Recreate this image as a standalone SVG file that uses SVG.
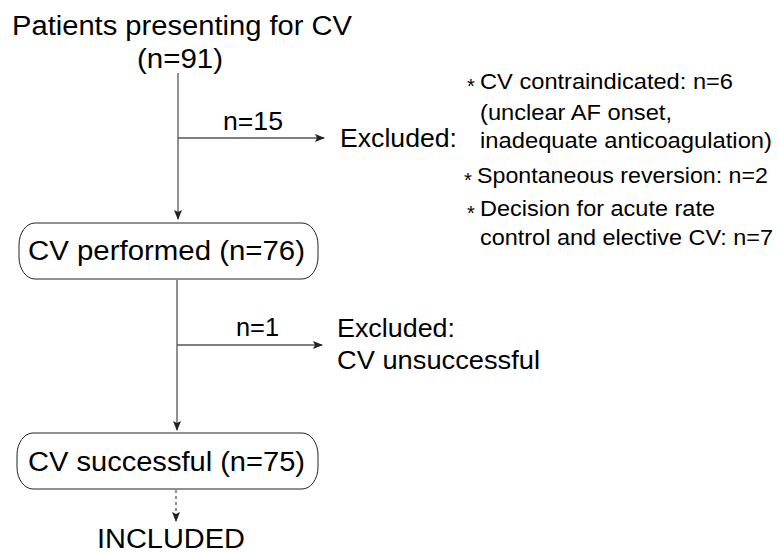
<svg xmlns="http://www.w3.org/2000/svg" width="778" height="553" viewBox="0 0 778 553">
<style>
text{font-family:"Liberation Sans",Arial,sans-serif;fill:#000}
.big{font-size:27px}
.mid{font-size:25px}
.sm{font-size:21.5px}
.ast{font-size:20px}
.ln{stroke:#555;stroke-width:1.3;fill:none}
.box{fill:#fff;stroke:#222;stroke-width:1}
</style>
<defs>
<marker id="ah" markerWidth="10" markerHeight="8" refX="9" refY="4" orient="auto" markerUnits="userSpaceOnUse">
<path d="M0,0 L10,4 L0,8 L2,4 Z" fill="#222"/>
</marker>
</defs>
<rect width="778" height="553" fill="#fff"/>
<g id="connectors">
<line class="ln" x1="178" y1="73" x2="178" y2="219" marker-end="url(#ah)"/>
<line class="ln" x1="178" y1="138" x2="324" y2="138" marker-end="url(#ah)"/>
<line class="ln" x1="177" y1="280" x2="177" y2="430" marker-end="url(#ah)"/>
<line class="ln" x1="177" y1="345" x2="322" y2="345" marker-end="url(#ah)"/>
<line class="ln" x1="176" y1="490" x2="176" y2="521" stroke-dasharray="3,3" marker-end="url(#ah)"/>
<text class="mid" x="223" y="130" textLength="60" lengthAdjust="spacingAndGlyphs">n=15</text>
<text class="mid" x="236" y="336" textLength="43" lengthAdjust="spacingAndGlyphs">n=1</text>
</g>
<g id="start">
<text class="big" x="12" y="35" textLength="340" lengthAdjust="spacingAndGlyphs">Patients presenting for CV</text>
<text class="big" x="137" y="68" textLength="86" lengthAdjust="spacingAndGlyphs">(n=91)</text>
</g>
<g id="excluded1">
<text class="mid" x="340" y="147" textLength="117" lengthAdjust="spacingAndGlyphs">Excluded:</text>
<text class="ast" x="467" y="93">*</text>
<text class="sm" x="480" y="89" textLength="253" lengthAdjust="spacingAndGlyphs">CV contraindicated: n=6</text>
<text class="sm" x="480" y="120" textLength="192" lengthAdjust="spacingAndGlyphs">(unclear AF onset,</text>
<text class="sm" x="480" y="148" textLength="292" lengthAdjust="spacingAndGlyphs">inadequate anticoagulation)</text>
<text class="ast" x="464" y="187">*</text>
<text class="sm" x="477" y="183" textLength="291" lengthAdjust="spacingAndGlyphs">Spontaneous reversion: n=2</text>
<text class="ast" x="467" y="220">*</text>
<text class="sm" x="480" y="216" textLength="235" lengthAdjust="spacingAndGlyphs">Decision for acute rate</text>
<text class="sm" x="480" y="245" textLength="293" lengthAdjust="spacingAndGlyphs">control and elective CV: n=7</text>
</g>
<g id="performed">
<rect class="box" x="19" y="223" width="299" height="56" rx="16" ry="22"/>
<text class="big" x="28" y="260" textLength="277" lengthAdjust="spacingAndGlyphs">CV performed (n=76)</text>
</g>
<g id="excluded2">
<text class="mid" x="337" y="337" textLength="118" lengthAdjust="spacingAndGlyphs">Excluded:</text>
<text class="mid" x="337" y="369" textLength="203" lengthAdjust="spacingAndGlyphs">CV unsuccessful</text>
</g>
<g id="successful">
<rect class="box" x="17" y="433" width="301" height="56" rx="16" ry="22"/>
<text class="big" x="28" y="471" textLength="277" lengthAdjust="spacingAndGlyphs">CV successful (n=75)</text>
</g>
<g id="included">
<text class="big" x="97" y="548" textLength="148" lengthAdjust="spacingAndGlyphs">INCLUDED</text>
</g>
</svg>
